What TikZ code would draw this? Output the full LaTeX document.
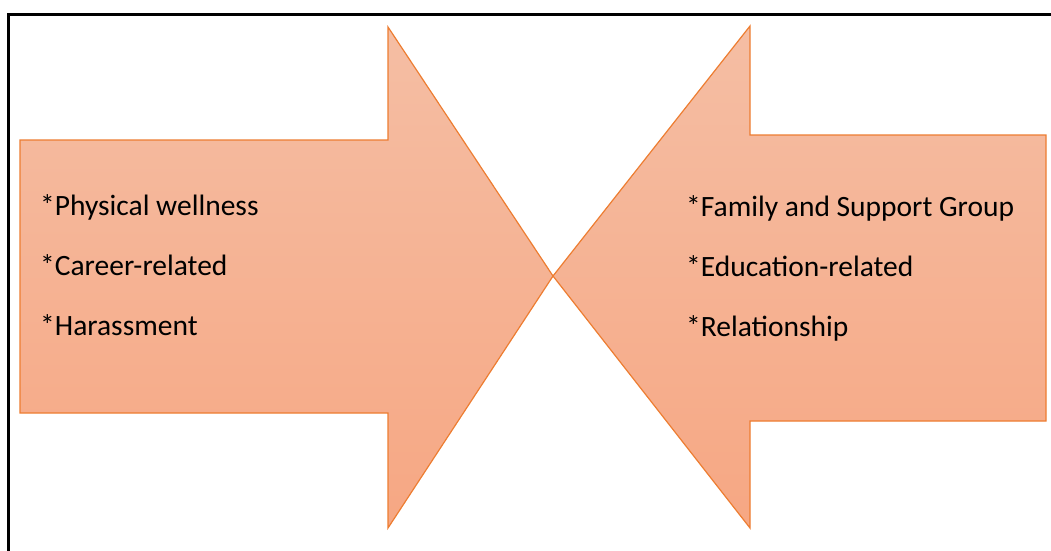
\documentclass[tikz,border=0pt]{standalone}
\usepackage{fontspec}
\setmainfont{Carlito}
\usepackage{tikz}
\usetikzlibrary{calc,positioning}

\definecolor{arrowline}{HTML}{ED7D31}
\definecolor{arrowtop}{HTML}{F5BEA4}
\definecolor{arrowbot}{HTML}{F6A783}

\begin{document}
\begin{tikzpicture}[x=1pt,y=-1pt,
    big arrow/.style={draw=arrowline,line width=1.2pt,line join=miter,top color=arrowtop,bottom color=arrowbot},
    item/.style={inner sep=0pt,text height=20pt,text depth=7pt,anchor=west,font=\fontsize{29.5}{34}\selectfont}]
    \useasboundingbox (0,0) rectangle (1051,550);
    \draw[line width=3pt] (8,14) rectangle (1070,570);

    \coordinate (tip) at (553,276);
    % left arrow
    \path[big arrow] (20,140) -- (388,140) -- (388,27) -- (tip) -- (388,528) -- (388,413) -- (20,413) -- cycle;
    % right arrow
    \path[big arrow] (1046,135) -- (750,135) -- (750,26) -- (tip) -- (750,528) -- (750,421) -- (1046,421) -- cycle;

    \node[item] (phys) at (40,208.5) {*Physical wellness};
    \node[item] (career) [below=33pt of phys.south west,anchor=north west] {*Career-related};
    \node[item] (harass) [below=33pt of career.south west,anchor=north west] {*Harassment};

    \node[item] (family) at (686,209.5) {*Family and Support Group};
    \node[item] (educ) [below=33pt of family.south west,anchor=north west] {*Education-related};
    \node[item] (relation) [below=33pt of educ.south west,anchor=north west] {*Relationship};
\end{tikzpicture}
\end{document}
